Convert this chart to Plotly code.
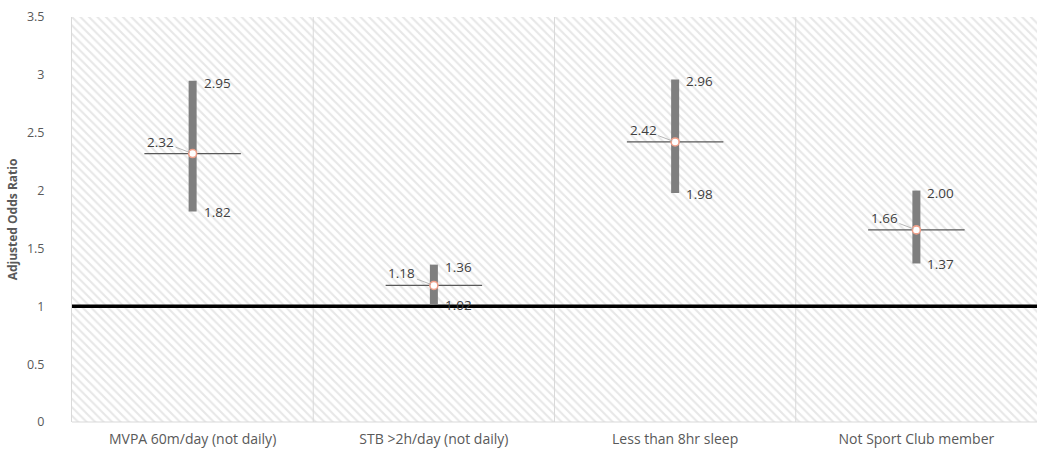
import plotly.graph_objects as go

# Adjusted odds ratios with 95% confidence limits
categories = ["MVPA 60m/day (not daily)", "STB >2h/day (not daily)",
              "Less than 8hr sleep", "Not Sport Club member"]
odds_ratio = [2.32, 1.18, 2.42, 1.66]
ci_lower = [1.82, 1.02, 1.98, 1.37]
ci_upper = [2.95, 1.36, 2.96, 2.00]
reference_or = 1.0
y_ticks = [0, 0.5, 1, 1.5, 2, 2.5, 3, 3.5]

FONT = "Open Sans"
TEXT = "#404040"
AXIS_TEXT = "#595959"
GRID = "#d9d9d9"

xpos = list(range(len(categories)))
y_top = max(y_ticks)

fig = go.Figure()

# hatched plot background, one panel per category
fig.add_trace(go.Bar(
    x=xpos, y=[y_top] * len(xpos), width=1,
    marker=dict(color="white", line=dict(width=0),
                pattern=dict(shape="\\", fgcolor="#cfcfcf", bgcolor="white",
                             size=6, solidity=0.35)),
    hoverinfo="skip", showlegend=False,
))

# thick confidence-interval bars
fig.add_trace(go.Scatter(
    x=xpos, y=ci_upper, mode="markers",
    marker=dict(size=0.1, color="rgba(0,0,0,0)"),
    error_y=dict(type="data", symmetric=False,
                 array=[0] * len(xpos),
                 arrayminus=[u - l for u, l in zip(ci_upper, ci_lower)],
                 color="#7f7f7f", thickness=8, width=0),
    hoverinfo="skip", showlegend=False,
))

# horizontal odds-ratio ticks
hx, hy = [], []
for i, m in zip(xpos, odds_ratio):
    hx += [i - 0.2, i + 0.2, None]
    hy += [m, m, None]
fig.add_trace(go.Scatter(x=hx, y=hy, mode="lines",
                         line=dict(color="#595959", width=1.3),
                         hoverinfo="skip", showlegend=False))

# point estimates
fig.add_trace(go.Scatter(
    x=xpos, y=odds_ratio, mode="markers",
    marker=dict(symbol="circle", size=8, color="white",
                line=dict(color="#f0a08a", width=1.6)),
    showlegend=False,
))

# category separators
for b in [i + 0.5 for i in xpos[:-1]]:
    fig.add_shape(type="line", xref="x", yref="paper", x0=b, x1=b, y0=0, y1=1,
                  line=dict(color=GRID, width=1), layer="above")

# no-effect reference line
fig.add_shape(type="line", xref="paper", x0=0, x1=1, y0=reference_or, y1=reference_or,
              line=dict(color="black", width=3.5), layer="above")
fig.add_shape(type="line", xref="paper", yref="paper", x0=0, x1=1, y0=0, y1=0,
              line=dict(color=GRID, width=1))

annos = []
for i, m, lo, hi in zip(xpos, odds_ratio, ci_lower, ci_upper):
    annos.append(dict(x=i, y=hi, text=f"{hi:.2f}", showarrow=False,
                      xanchor="left", yanchor="middle", xshift=9, yshift=-2,
                      font=dict(family=FONT, size=13.5, color=TEXT)))
    annos.append(dict(x=i, y=lo, text=f"{lo:.2f}", showarrow=False,
                      xanchor="left", yanchor="middle", xshift=9, yshift=-1,
                      font=dict(family=FONT, size=13.5, color=TEXT)))
    annos.append(dict(x=i, y=m, text=f"{m:.2f}", showarrow=True,
                      arrowhead=0, arrowwidth=0.8, arrowcolor="#a6a6a6",
                      ax=-32, ay=-12, standoff=3,
                      xanchor="center", yanchor="middle",
                      font=dict(family=FONT, size=13.5, color=TEXT)))

fig.update_layout(
    width=1038, height=452,
    margin=dict(l=72, r=1, t=17, b=30),
    paper_bgcolor="white", plot_bgcolor="white",
    bargap=0,
    annotations=annos,
    font=dict(family=FONT, color=AXIS_TEXT, size=12),
    xaxis=dict(range=[-0.5, len(categories) - 0.5], tickmode="array",
               tickvals=xpos, ticktext=categories, showgrid=False,
               zeroline=False, showline=False, ticks="",
               ticklabelstandoff=7,
               tickfont=dict(family=FONT, size=14, color=AXIS_TEXT)),
    yaxis=dict(range=[0, y_top], tickmode="array", tickvals=y_ticks,
               ticktext=[f"{v:g}" for v in y_ticks],
               showgrid=True, gridcolor=GRID, gridwidth=1,
               zeroline=False, showline=True, linecolor=GRID, ticks="",
               ticklabelstandoff=24,
               tickfont=dict(family=FONT, size=12.5, color=AXIS_TEXT),
               title=dict(text="<b>Adjusted Odds Ratio</b>", standoff=6,
                          font=dict(family=FONT, size=12, color=AXIS_TEXT))),
)

fig.write_html("out.html")
